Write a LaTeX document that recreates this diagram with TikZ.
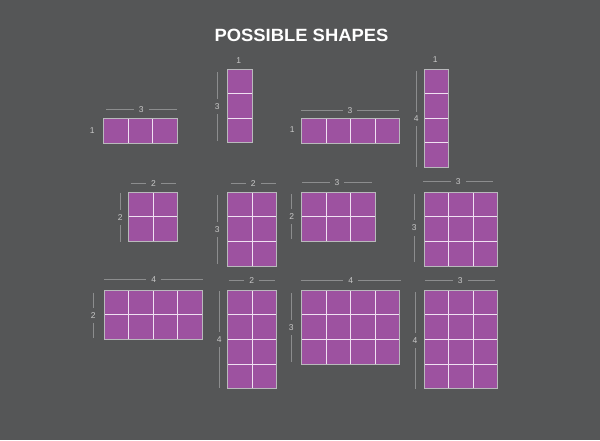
\documentclass[tikz,border=0pt]{standalone}
\usepackage{fontspec}
\setmainfont{Liberation Sans}
\definecolor{bg}{RGB}{85,86,87}
\definecolor{cellfill}{RGB}{157,82,160}
\definecolor{cellline}{RGB}{240,225,242}
\definecolor{rim}{RGB}{185,185,188}
\definecolor{dimc}{RGB}{140,141,142}
\definecolor{lblc}{RGB}{200,200,200}
\tikzset{
  dimline/.style={draw=dimc, line width=0.8pt},
  dimlbl/.style={fill=bg, text=lblc, font=\fontsize{8.5}{8.5}\selectfont, inner xsep=5pt, inner ysep=4.5pt},
  titletext/.style={text=white, font=\fontsize{17.7}{18}\selectfont\bfseries, xscale=1.04}
}
\newcommand\gridshape[4]{%
  \fill[cellfill] (#1,#2) rectangle ++(#3*24.6,#4*24.6);
  \foreach \i in {1,...,#3}{\ifnum\i<#3\relax\draw[cellline, line width=1pt] ({#1+\i*24.6},#2) -- ++(0,#4*24.6);\fi}
  \foreach \j in {1,...,#4}{\ifnum\j<#4\relax\draw[cellline, line width=1pt] (#1,{#2+\j*24.6}) -- ++(#3*24.6,0);\fi}
  \draw[rim, line width=1pt] (#1,#2) rectangle ++(#3*24.6,#4*24.6);
}
\newcommand\hdim[5]{% name, y, x1, x2, text
  \draw[dimline] (#3,#2) -- (#4,#2);
  \node[dimlbl] (#1) at ({(#3+#4)/2},#2) {#5};
}
\newcommand\vdim[5]{% name, x, y1, y2, text
  \draw[dimline] (#2,#3) -- (#2,#4);
  \node[dimlbl] (#1) at (#2,{(#3+#4)/2}) {#5};
}
\begin{document}
\begin{tikzpicture}[x=1pt,y=-1pt]
\fill[bg] (0,0) rectangle (600,440);
\useasboundingbox (0,0) rectangle (600,440);
\node[titletext] (title) at (301.5,35.5) {POSSIBLE SHAPES};
% row 1
\gridshape{103.5}{118.7}{3}{1}
\gridshape{227.5}{69}{1}{3}
\gridshape{301.5}{118.7}{4}{1}
\gridshape{424}{69}{1}{4}
% row 2
\gridshape{128.5}{192.3}{2}{2}
\gridshape{227.5}{192.3}{2}{3}
\gridshape{301.5}{192.3}{3}{2}
\gridshape{424}{192.3}{3}{3}
% row 3
\gridshape{104}{290.3}{4}{2}
\gridshape{227.5}{290.3}{2}{4}
\gridshape{301.5}{290.3}{4}{3}
\gridshape{424}{290.3}{3}{4}
% labels row 1
\hdim{at}{109.7}{106}{176.7}{3}
\node[dimlbl] (al) at (92.3,130.5) {1};
\node[dimlbl] (bt) at (238.7,60.7) {1};
\vdim{bl}{217.3}{72}{140.7}{3}
\hdim{ct}{110.3}{301}{399}{3}
\node[dimlbl] (cl) at (292.3,130) {1};
\node[dimlbl] (dt) at (435.3,59.3) {1};
\vdim{dl}{416.3}{70.7}{167.3}{4}
% labels row 2
\hdim{et}{183.7}{130.7}{176.3}{2}
\vdim{el}{120.3}{193.3}{241.7}{2}
\hdim{ft}{183.7}{230.7}{276}{2}
\vdim{fl}{217.3}{195}{264}{3}
\hdim{gt}{182.3}{302}{372}{3}
\vdim{gl}{291.7}{194}{239.3}{2}
\hdim{ht}{181.3}{423.3}{493.3}{3}
\vdim{hl}{414.3}{194}{262}{3}
% labels row 3
\hdim{it}{279.7}{104}{203.3}{4}
\vdim{il}{93.3}{292.7}{338}{2}
\hdim{jt}{280.3}{228.7}{274.7}{2}
\vdim{jl}{219.3}{291}{388.3}{4}
\hdim{kt}{280.3}{300.7}{400.7}{4}
\vdim{kl}{291.3}{293}{362}{3}
\hdim{lt}{280.3}{425}{495.3}{3}
\vdim{ll}{415}{292}{389}{4}
\end{tikzpicture}
\end{document}
